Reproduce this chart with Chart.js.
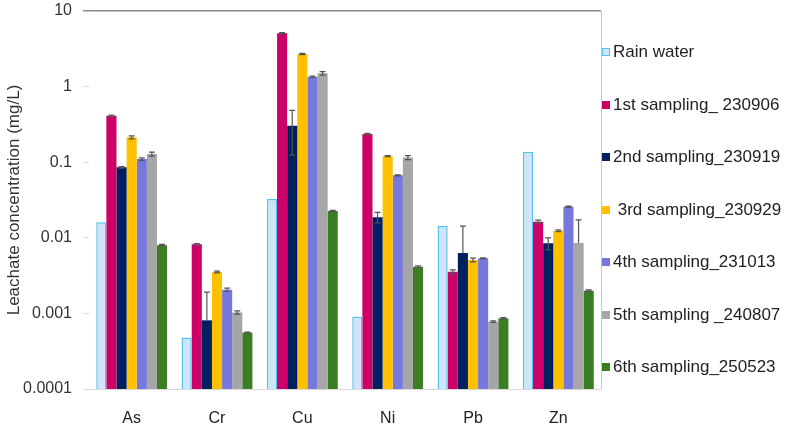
<!DOCTYPE html>
<html>
<head>
<meta charset="utf-8">
<script src="https://cdn.jsdelivr.net/npm/chart.js@4/dist/chart.umd.min.js"></script>
<style>
  html, body { margin: 0; padding: 0; background: #fff; }
  #wrap { position: relative; width: 787px; height: 424px; }
  #legend { position: absolute; left: 602px; top: 26px; font: 17px "Liberation Sans", Arial, sans-serif; color: #222; }
  .item { height: 52.5px; display: flex; align-items: center; white-space: pre; }
  .box { width: 8px; height: 8px; margin-right: 3px; box-sizing: border-box; }
</style>
</head>
<body>
<div id="wrap">
  <canvas id="chart"></canvas>
  <div id="legend"></div>
</div>
<script>
const categories = ["As", "Cr", "Cu", "Ni", "Pb", "Zn"];
const seriesLabels = [
  "Rain water",
  "1st sampling_ 230906",
  "2nd sampling_230919",
  " 3rd sampling_230929",
  "4th sampling_231013",
  "5th sampling _240807",
  "6th sampling_250523"
];

// mg/L
const rainWater = [0.016, 0.00048, 0.0326, 0.00091, 0.0143, 0.138];
const sampling1 = [0.41, 0.0082, 5.07, 0.236, 0.00356, 0.0163];
const sampling2 = [0.0855, 0.00081, 0.304, 0.0187, 0.0063, 0.00845];
const sampling3 = [0.213, 0.00353, 2.70, 0.120, 0.00509, 0.0124];
const sampling4 = [0.110, 0.00206, 1.35, 0.067, 0.00535, 0.0258];
const sampling5 = [0.128, 0.00103, 1.50, 0.115, 0.00078, 0.00853];
const sampling6 = [0.0080, 0.000556, 0.0226, 0.00415, 0.00086, 0.0020];

// error bars (+/-)
const rainErr = [0, 0, 0, 0, 0, 0];
const err1 = [0.01, 0.0002, 0.1, 0.005, 0.0002, 0.0008];
const err2 = [0.002, 0.0011, 0.18, 0.003, 0.008, 0.0015];
const err3 = [0.01, 0.0001, 0.05, 0.002, 0.0003, 0.0003];
const err4 = [0.004, 0.0001, 0.03, 0.001, 0.0001, 0.0005];
const err5 = [0.008, 0.00005, 0.08, 0.007, 0.00002, 0.0087];
const err6 = [0.0002, 0.00001, 0.0005, 0.0001, 0.00002, 0.00005];

const yTicks = [0.0001, 0.001, 0.01, 0.1, 1, 10];
const yTickLabels = ["0.0001", "0.001", "0.01", "0.1", "1", "10"];

const seriesValues = [rainWater, sampling1, sampling2, sampling3, sampling4, sampling5, sampling6];
const seriesErrors = [rainErr, err1, err2, err3, err4, err5, err6];
const fills = ["#cfe4f9", "#cc0066", "#002060", "#ffc000", "#7777dd", "#a6a6a6", "#3a7d22"];
const borders = ["#55c1ee", "#cc0066", "#002060", "#ffc000", "#7777dd", "#a6a6a6", "#3a7d22"];

Chart.defaults.font.family = '"Liberation Sans", Arial, sans-serif';
Chart.defaults.color = "#404040";

const errorBars = {
  id: "errorBars",
  afterDatasetsDraw(chart) {
    const ctx = chart.ctx;
    const y = chart.scales.y;
    ctx.save();
    ctx.strokeStyle = "#555";
    ctx.lineWidth = 1.2;
    chart.data.datasets.forEach((ds, i) => {
      const meta = chart.getDatasetMeta(i);
      meta.data.forEach((bar, j) => {
        const e = ds.errors[j];
        if (!e) return;
        const v = ds.data[j];
        const top = y.getPixelForValue(v + e);
        const low = v - e > 0 ? y.getPixelForValue(v - e) : bar.y;
        ctx.beginPath();
        ctx.moveTo(bar.x, top);
        ctx.lineTo(bar.x, low);
        ctx.moveTo(bar.x - 3, top);
        ctx.lineTo(bar.x + 3, top);
        if (v - e > 0) {
          ctx.moveTo(bar.x - 3, low);
          ctx.lineTo(bar.x + 3, low);
        }
        ctx.stroke();
      });
    });
    ctx.restore();
  }
};

const rightBorder = {
  id: "rightBorder",
  afterDraw(chart) {
    const { ctx, chartArea } = chart;
    ctx.save();
    ctx.strokeStyle = "#c8c8c8";
    ctx.lineWidth = 1;
    ctx.beginPath();
    ctx.moveTo(chartArea.right + 0.5, chartArea.top);
    ctx.lineTo(chartArea.right + 0.5, chartArea.bottom);
    ctx.stroke();
    ctx.restore();
  }
};

const chart = new Chart(document.getElementById("chart"), {
  type: "bar",
  data: {
    labels: categories,
    datasets: seriesLabels.map((label, i) => ({
      label: label,
      data: seriesValues[i],
      errors: seriesErrors[i],
      backgroundColor: fills[i],
      borderColor: borders[i],
      borderWidth: i === 0 ? 1.5 : 0,
      categoryPercentage: 0.83,
      barPercentage: 1.0
    }))
  },
  options: {
    responsive: true,
    maintainAspectRatio: false,
    animation: false,
    layout: { padding: { top: 11, right: 186, left: 0, bottom: 0 } },
    plugins: {
      legend: { display: false },
      tooltip: { enabled: false }
    },
    scales: {
      x: {
        grid: { display: false },
        border: { display: true, color: "#d9d9d9", width: 1 },
        ticks: { font: { size: 16 }, color: "#222", padding: 12 },
        afterFit: (s) => { s.height = 35; s.paddingLeft = 0; s.paddingRight = 0; }
      },
      y: {
        type: "logarithmic",
        min: 0.0001,
        max: 10,
        border: { display: false },
        grid: {
          color: (c) => c.tick && c.tick.value === 10 ? "#8c8c8c" : (c.tick && c.tick.value === 0.0001 ? "#d9d9d9" : "rgba(0,0,0,0)"),
          tickColor: (c) => c.tick && c.tick.value === 10 ? "#8c8c8c" : "#d9d9d9",
          lineWidth: (c) => c.tick && c.tick.value === 10 ? 1.5 : 1,
          tickLength: 6
        },
        afterBuildTicks: (s) => { s.ticks = yTicks.map((v) => ({ value: v })); },
        ticks: {
          font: { size: 16 },
          color: "#333",
          padding: 11,
          callback: (v) => yTickLabels[yTicks.indexOf(v)]
        },
        title: {
          display: true,
          text: "Leachate concentration (mg/L)",
          font: { size: 17 },
          color: "#333",
          padding: { top: 4, bottom: 0 }
        },
        afterFit: (s) => { s.width = 89; s.paddingTop = 0; s.paddingBottom = 0; }
      }
    }
  },
  plugins: [errorBars, rightBorder]
});

// legend as html, built from the same series
const legend = document.getElementById("legend");
seriesLabels.forEach((label, i) => {
  const row = document.createElement("div");
  row.className = "item";
  const box = document.createElement("span");
  box.className = "box";
  box.style.background = fills[i];
  if (i === 0) box.style.border = "1.5px solid " + borders[i];
  row.appendChild(box);
  row.appendChild(document.createTextNode(label));
  legend.appendChild(row);
});
</script>
</body>
</html>
